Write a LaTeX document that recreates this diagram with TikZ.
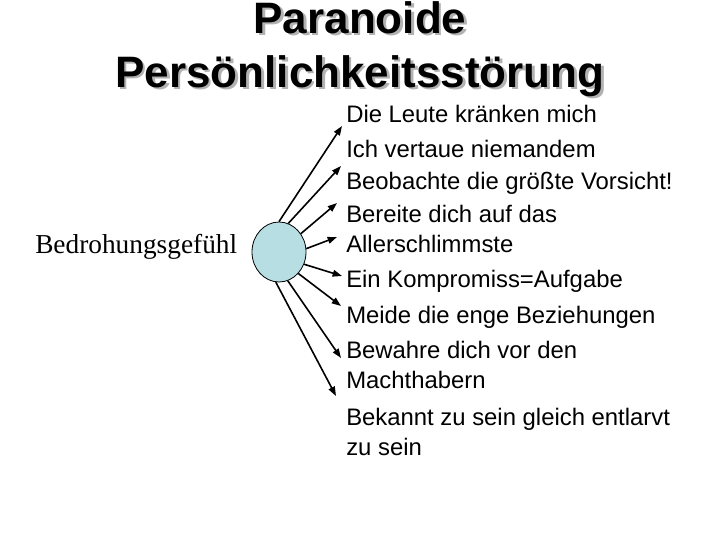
\documentclass[tikz,border=0pt]{standalone}
\usepackage{fontspec}
\setmainfont{Liberation Sans}
\newfontfamily\serifface{Liberation Serif}
\usetikzlibrary{arrows.meta,shapes.geometric}
\definecolor{circfill}{RGB}{182,222,227}
\definecolor{shadowgray}{RGB}{178,178,178}
\begin{document}
\begin{tikzpicture}[x={0.75pt},y={-0.75pt},
  titletext/.style={font=\fontsize{33pt}{38pt}\selectfont\bfseries, inner sep=0pt, anchor=base},
  itemtext/.style={font=\fontsize{17.9pt}{21pt}\selectfont, inner sep=0pt, anchor=base west},
  ray/.style={line width=1.2pt, -{Triangle[length=7pt,width=5pt]}}]
\useasboundingbox (0,0) rectangle (720,540);
% title with shadow
\node[titletext, text=shadowgray] (ts1) at (362.5,35.5) {Paranoide};
\node[titletext, text=shadowgray] (ts2) at (362.5,89.5) {Persönlichkeitsstörung};
\node[titletext] (t1) at (360,33) {Paranoide};
\node[titletext] (t2) at (360,87) {Persönlichkeitsstörung};
% left label
\node[font=\serifface\fontsize{20.5pt}{24pt}\selectfont, inner sep=0pt, anchor=base west] (lab) at (35,253) {Bedrohungsgefühl};
% circle
\node[ellipse, draw, line width=0.6pt, fill=circfill, minimum width=54*0.75pt, minimum height=60*0.75pt, inner sep=0pt] (c) at (279,252) {};
% items
\node[itemtext] (i1) at (346,122) {Die Leute kränken mich};
\node[itemtext] (i2) at (346,157) {Ich vertaue niemandem};
\node[itemtext] (i3) at (346,189) {Beobachte die größte Vorsicht!};
\node[itemtext] (i4a) at (346,222) {Bereite dich auf das};
\node[itemtext] (i4b) at (346,252) {Allerschlimmste};
\node[itemtext] (i5) at (346,287) {Ein Kompromiss=Aufgabe};
\node[itemtext] (i6) at (346,323) {Meide die enge Beziehungen};
\node[itemtext] (i7a) at (346,358) {Bewahre dich vor den};
\node[itemtext] (i7b) at (346,388) {Machthabern};
\node[itemtext] (i8a) at (346,425) {Bekannt zu sein gleich entlarvt};
\node[itemtext] (i8b) at (346,455) {zu sein};
% arrow tips
\coordinate (a1) at (342,126);
\coordinate (a2) at (341,166);
\coordinate (a3) at (337,203);
\coordinate (a4) at (337,237);
\coordinate (a5) at (342,276);
\coordinate (a6) at (341,306);
\coordinate (a7) at (341,358);
\coordinate (a8) at (336,396);
\draw[ray] (c.90) -- (a1);
\draw[ray] (c.72) -- (a2);
\draw[ray] (c.40) -- (a3);
\draw[ray] (c.7) -- (a4);
\draw[ray] (c.-26) -- (a5);
\draw[ray] (c.-48) -- (a6);
\draw[ray] (c.-73) -- (a7);
\draw[ray] (c.-96) -- (a8);
\end{tikzpicture}
\end{document}
